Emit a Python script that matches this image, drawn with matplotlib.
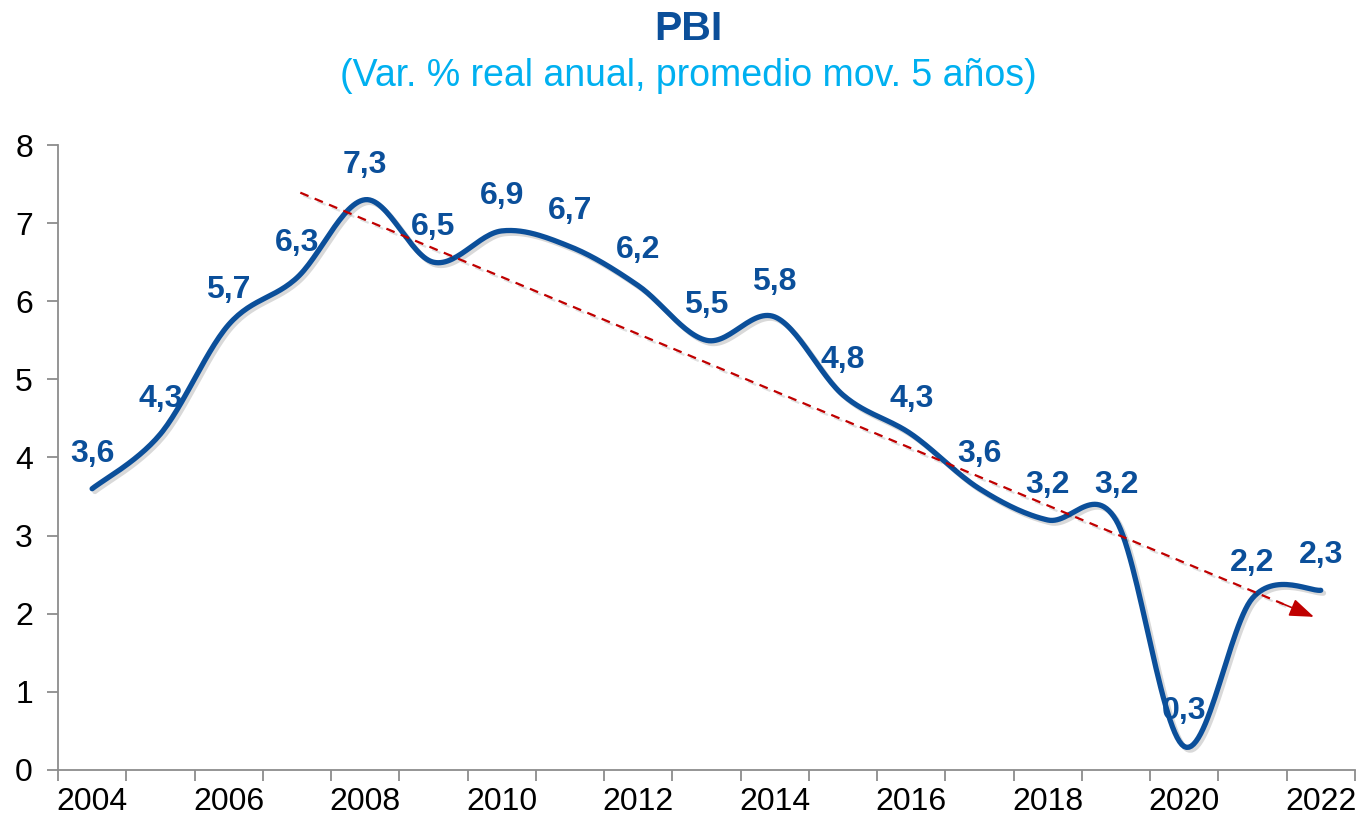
import numpy as np
import matplotlib.pyplot as plt
import matplotlib.patheffects as pe
from matplotlib.ticker import FixedLocator, FixedFormatter

years = list(range(2004, 2023))
pbi = [3.6, 4.3, 5.7, 6.3, 7.3, 6.5, 6.9, 6.7, 6.2, 5.5, 5.8, 4.8, 4.3, 3.6, 3.2, 3.2, 0.3, 2.2, 2.3]
year_labels = [str(y) if y % 2 == 0 else "" for y in years]
# trend arrow end points (year position, value)
trend_start = [2007.05, 7.39]
trend_end = [2021.9, 1.96]

BLUE = "#0B4F9A"
LIGHT = "#00B0F0"
RED = "#C00000"
GRAY = "#8C8C8C"

plt.rcParams['font.family'] = ['Liberation Sans', 'DejaVu Sans']


def smooth(xs, ys, n=30):
    # excel-like smoothed line (catmull-rom as cubic bezier)
    xs = np.asarray(xs, float)
    ys = np.asarray(ys, float)
    px = np.concatenate([[xs[0]], xs, [xs[-1]]])
    py = np.concatenate([[ys[0]], ys, [ys[-1]]])
    outx, outy = [], []
    t = np.linspace(0, 1, n)
    for i in range(1, len(px) - 2):
        p0 = np.array([px[i], py[i]])
        p3 = np.array([px[i + 1], py[i + 1]])
        c1 = p0 + (np.array([px[i + 1], py[i + 1]]) - np.array([px[i - 1], py[i - 1]])) / 6
        c2 = p3 - (np.array([px[i + 2], py[i + 2]]) - np.array([px[i], py[i]])) / 6
        b = ((1 - t) ** 3)[:, None] * p0 + (3 * (1 - t) ** 2 * t)[:, None] * c1 \
            + (3 * (1 - t) * t ** 2)[:, None] * c2 + (t ** 3)[:, None] * p3
        outx.extend(b[:, 0])
        outy.extend(b[:, 1])
    return outx, outy


fig = plt.figure(figsize=(13.58, 8.22), dpi=100)
ax = fig.add_axes([0.0427, 0.0633, 0.955, 0.7603])

shadow = [pe.SimpleLineShadow(offset=(2, -2), alpha=0.15, shadow_color='k'), pe.Normal()]

idx = np.arange(len(years))
sx, sy = smooth(idx, pbi)
ax.plot(sx, sy, color=BLUE, lw=3.8, solid_capstyle='round', zorder=3, path_effects=shadow)

for i, v in zip(idx, pbi):
    ax.text(i, v + 0.45, f"{v:.1f}".replace(".", ","), ha='center', va='center',
            fontsize=23, fontweight='bold', color=BLUE, zorder=4)

# trend: dashed shaft + solid head
x0 = trend_start[0] - years[0]
x1 = trend_end[0] - years[0]
y0, y1 = trend_start[1], trend_end[1]
f = 0.97
xm, ym = x0 + f * (x1 - x0), y0 + f * (y1 - y0)
ax.plot([x0, xm], [y0, ym], color=RED, lw=1.6, linestyle=(0, (4, 3)), zorder=5,
        path_effects=[pe.SimpleLineShadow(offset=(2, -2), alpha=0.12, shadow_color='k'), pe.Normal()])
ax.annotate("", xy=(x1, y1), xytext=(xm, ym),
            arrowprops=dict(arrowstyle='-|>,head_length=1.5,head_width=0.55',
                            color=RED, lw=1.2, shrinkA=0, shrinkB=0), zorder=5)

ax.set_xlim(-0.5, len(years) - 0.5)
ax.set_ylim(0, 8)
ax.set_yticks(range(0, 9))
ax.xaxis.set_major_locator(FixedLocator(np.arange(-0.5, len(years), 1.0)))
ax.xaxis.set_major_formatter(FixedFormatter([]))
ax.xaxis.set_minor_locator(FixedLocator(idx))
ax.xaxis.set_minor_formatter(FixedFormatter(year_labels))
ax.tick_params(axis='x', which='major', length=8, width=1.3, color=GRAY, direction='out')
ax.tick_params(axis='x', which='minor', length=0, pad=12, labelsize=23)
ax.tick_params(axis='y', length=8, width=1.3, color=GRAY, labelsize=23, pad=10)

for s in ['top', 'right']:
    ax.spines[s].set_visible(False)
for s in ['left', 'bottom']:
    ax.spines[s].set_color(GRAY)
    ax.spines[s].set_linewidth(1.3)

fig.text(0.507, 0.965, "PBI", ha='center', va='center', fontsize=29.5,
         fontweight='bold', color=BLUE)
fig.text(0.507, 0.907, "(Var. % real anual, promedio mov. 5 años)", ha='center',
         va='center', fontsize=27, color=LIGHT)

fig.savefig("out.png", dpi=100)
